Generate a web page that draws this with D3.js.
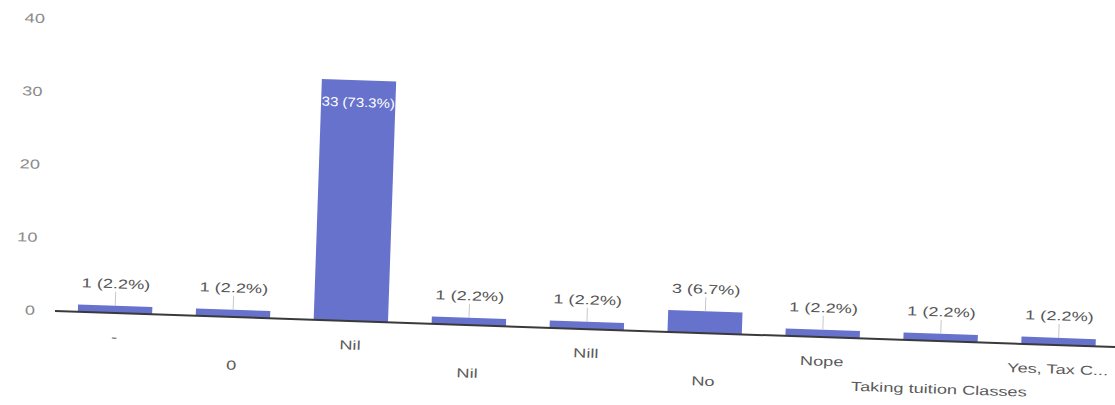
<!DOCTYPE html>
<html>
<head>
<meta charset="utf-8">
<script src="https://cdn.jsdelivr.net/npm/d3@7"></script>
<style>
  body { margin: 0; background: #fff; }
  text { font-family: Arial, "Liberation Sans", sans-serif; font-size: 13px; }
</style>
</head>
<body>
<script>
// answers (45 responses in total)
const categories = ["-", "0", "Nil", "Nil ", "Nill", "No", "Nope", "Taking tuition Classes", "Yes, Tax C..."];
const counts = [1, 1, 33, 1, 1, 3, 1, 1, 1];
const percents = ["2.2%", "2.2%", "73.3%", "2.2%", "2.2%", "6.7%", "2.2%", "2.2%", "2.2%"];
const yTicks = [0, 10, 20, 30, 40];

const W = 1115, H = 405;
const x0 = 55, base = 311;
const stretch = 1.4; // the photo is squashed sideways, text looks wide

const svg = d3.select("body").append("svg")
  .attr("width", W)
  .attr("height", H);

// the photo is tilted about 2 degrees
const g = svg.append("g")
  .attr("transform", "rotate(1.95," + x0 + "," + base + ")");

const x = d3.scaleBand()
  .domain(categories)
  .range([56, 1118])
  .paddingInner(0.37)
  .paddingOuter(0.185);

const y = d3.scaleLinear()
  .domain([0, 40])
  .range([base, base - 292]);

function label(sel, tx, ty, str, anchor, color) {
  sel.append("text")
    .attr("transform", "translate(" + tx + "," + ty + ") scale(" + stretch + ",1)")
    .attr("text-anchor", anchor)
    .attr("dy", "0.35em")
    .attr("fill", color)
    .text(str);
}

// y tick labels
yTicks.forEach(function (t) {
  label(g, 35, y(t), t, "end", "#8a8a8a");
});

// bars
g.selectAll("rect.bar")
  .data(counts)
  .join("rect")
  .attr("class", "bar")
  .attr("x", (d, i) => x(categories[i]))
  .attr("y", d => y(d))
  .attr("width", x.bandwidth())
  .attr("height", d => y(0) - y(d))
  .attr("fill", "#6672cc");

// baseline
g.append("line")
  .attr("x1", x0)
  .attr("x2", 1150)
  .attr("y1", y(0))
  .attr("y2", y(0))
  .attr("stroke", "#3a3a3a")
  .attr("stroke-width", 2);

// value annotations
counts.forEach(function (d, i) {
  const cx = x(categories[i]) + x.bandwidth() / 2;
  const txt = d + " (" + percents[i] + ")";
  if (d > 20) {
    g.append("text")
      .attr("transform", "translate(" + cx + "," + (y(d) + 22) + ") scale(1.15,1)")
      .attr("text-anchor", "middle")
      .attr("dy", "0.35em")
      .attr("fill", "#fff")
      .text(txt);
  } else {
    const ly = y(d) - 22;
    g.append("line")
      .attr("x1", cx).attr("x2", cx)
      .attr("y1", ly + 8).attr("y2", y(d))
      .attr("stroke", "#c8c8c8")
      .attr("stroke-width", 1);
    label(g, cx, ly, txt, "middle", "#555");
  }
});

// category labels, staggered in two rows
categories.forEach(function (c, i) {
  const cx = x(c) + x.bandwidth() / 2;
  const ly = base + (i % 2 === 0 ? 24 : 48);
  label(g, cx, ly, c.trim(), "middle", "#5a5a5a");
});
</script>
</body>
</html>
